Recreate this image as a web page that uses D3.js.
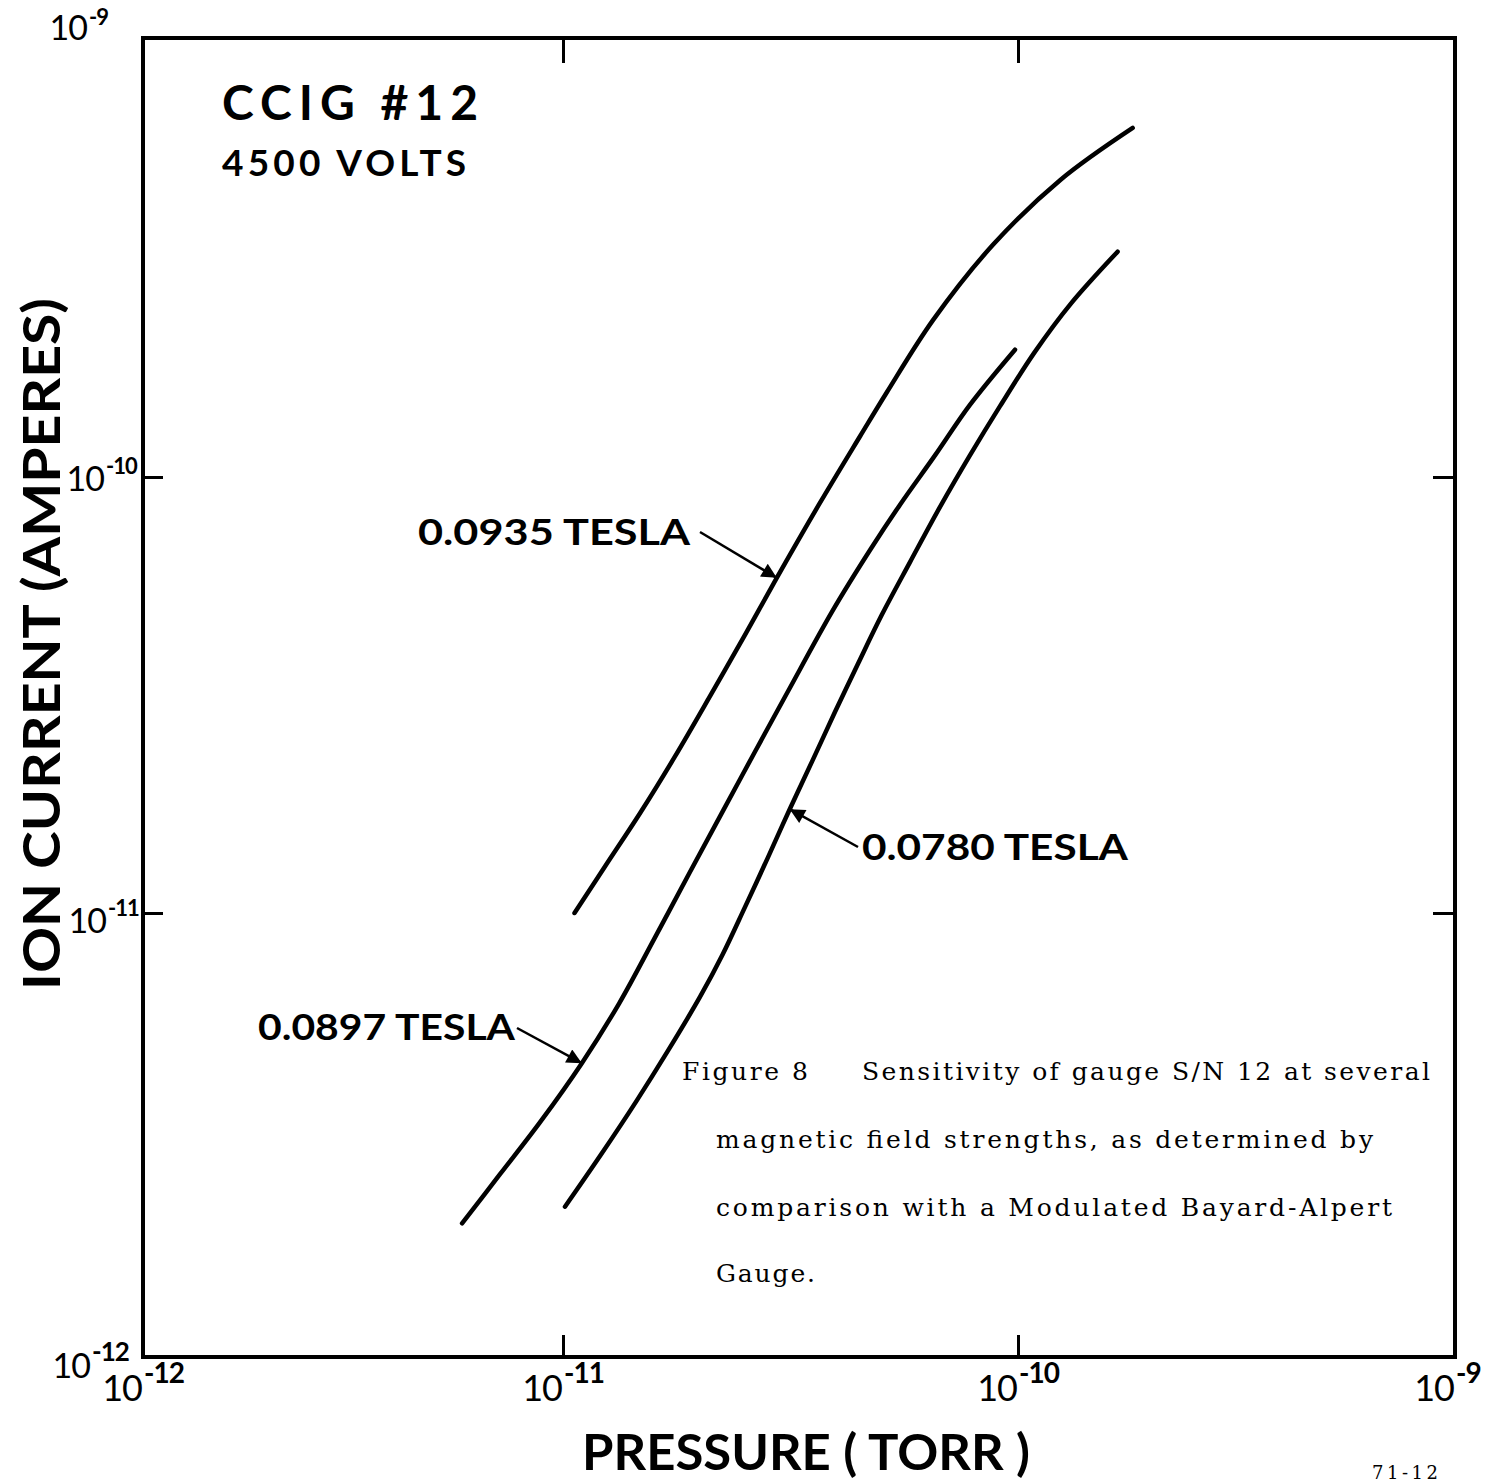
<!DOCTYPE html>
<html>
<head>
<meta charset="utf-8">
<script src="https://cdn.jsdelivr.net/npm/d3@7"></script>
<style>
  html, body { margin: 0; padding: 0; background: #fff; }
  svg { display: block; }
</style>
</head>
<body>
<svg id="chart" width="1507" height="1482"></svg>
<script>
// Decade tick values for both log axes
const xTicks = [1e-12, 1e-11, 1e-10, 1e-9];
const yTicks = [1e-12, 1e-11, 1e-10, 1e-9];
const xTickExp = ["-12", "-11", "-10", "-9"];
const yTickExp = ["-12", "-11", "-10", "-9"];

// Pressure (torr) / ion current (A) for each magnetic field
const pressure0935 = [1.06e-11, 1.25e-11, 1.48e-11, 1.76e-11, 2.10e-11, 2.51e-11, 2.95e-11, 3.67e-11, 4.50e-11, 5.15e-11, 6.51e-11, 8.81e-11, 1.25e-10, 1.83e-10];
const current0935  = [1.00e-11, 1.30e-11, 1.70e-11, 2.28e-11, 3.13e-11, 4.34e-11, 5.87e-11, 8.72e-11, 1.24e-10, 1.56e-10, 2.28e-10, 3.38e-10, 4.75e-10, 6.24e-10];

const pressure0897 = [5.75e-12, 7.08e-12, 8.82e-12, 1.10e-11, 1.33e-11, 1.59e-11, 1.90e-11, 2.25e-11, 2.64e-11, 3.11e-11, 3.92e-11, 4.73e-11, 5.50e-11, 6.57e-11, 7.84e-11, 9.85e-11];
const current0897  = [2.00e-12, 2.58e-12, 3.38e-12, 4.59e-12, 6.27e-12, 8.78e-12, 1.24e-11, 1.72e-11, 2.34e-11, 3.20e-11, 4.95e-11, 6.80e-11, 8.63e-11, 1.12e-10, 1.46e-10, 1.95e-10];

const pressure0780 = [1.01e-11, 1.21e-11, 1.45e-11, 1.70e-11, 2.00e-11, 2.24e-11, 2.51e-11, 2.82e-11, 3.15e-11, 3.53e-11, 3.96e-11, 4.45e-11, 5.02e-11, 5.79e-11, 6.74e-11, 7.84e-11, 9.13e-11, 1.09e-10, 1.32e-10, 1.69e-10];
const current0780  = [2.18e-12, 2.85e-12, 3.77e-12, 4.89e-12, 6.47e-12, 8.04e-12, 1.03e-11, 1.34e-11, 1.73e-11, 2.23e-11, 2.89e-11, 3.73e-11, 4.83e-11, 6.38e-11, 8.54e-11, 1.12e-10, 1.45e-10, 1.92e-10, 2.48e-10, 3.26e-10];

const fieldLabels = ["0.0935 TESLA", "0.0897 TESLA", "0.0780 TESLA"];

const captionLines = [
  "Sensitivity of gauge S/N 12 at several",
  "magnetic field strengths, as determined by",
  "comparison with a Modulated Bayard-Alpert",
  "Gauge."
];

const svg = d3.select("#chart");
const sans = "Lato, 'DejaVu Sans', sans-serif";
const serif = "'DejaVu Serif', 'Liberation Serif', serif";

// Hand-ruled decades are not quite equal, so the log scales are piecewise
const x = d3.scaleLog().domain(xTicks).range([143, 563, 1018, 1455]);
const y = d3.scaleLog().domain(yTicks).range([1357, 913, 477, 38]);

const [x0, x1] = [x(1e-12), x(1e-9)];
const [y0, y1] = [y(1e-12), y(1e-9)];

// Plot frame
svg.append("rect")
  .attr("x", x0).attr("y", y1)
  .attr("width", x1 - x0).attr("height", y0 - y1)
  .attr("fill", "none").attr("stroke", "#000").attr("stroke-width", 4);

// Inward ticks on all four sides
const inner = [1e-11, 1e-10];
function tickAxis(axis, transform, size) {
  const g = svg.append("g").attr("transform", transform)
    .call(axis.tickValues(inner).tickSize(size).tickFormat(""));
  g.select(".domain").remove();
  g.selectAll(".tick line").attr("stroke", "#000").attr("stroke-width", 3);
}
tickAxis(d3.axisBottom(x), `translate(0,${y0})`, -22);
tickAxis(d3.axisTop(x), `translate(0,${y1})`, -25);
tickAxis(d3.axisLeft(y), `translate(${x0},0)`, -20);
tickAxis(d3.axisRight(y), `translate(${x1},0)`, -22);

// Tick labels: a "10" followed by a raised exponent, placed as two texts
const tickLabels = svg.append("g").attr("font-family", sans).attr("fill", "#000");
function powerLabel(baseEnd, baseY, exp, baseSize, expSize, rise) {
  tickLabels.append("text")
    .attr("x", baseEnd).attr("y", baseY)
    .attr("text-anchor", "end")
    .attr("font-size", baseSize).attr("letter-spacing", -1)
    .text("10");
  tickLabels.append("text")
    .attr("x", baseEnd + 2).attr("y", baseY - rise)
    .attr("font-size", expSize).attr("font-weight", 700)
    .attr("letter-spacing", -1)
    .text(exp);
}

// x labels: the "10" ends at its tick
xTicks.forEach((v, i) => {
  powerLabel(x(v) - 1, y0 + 44, xTickExp[i], 36, 28, 18);
});

// y labels sit left of the axis; the corner ones ride above/below the frame
const yBaseEnd = [90, 106, 104, 87];
const yBaseDy = [21, 20, 14, 2];
const yRise = [17, 17, 17, 15];
yTicks.forEach((v, i) => {
  powerLabel(yBaseEnd[i], y(v) + yBaseDy[i], yTickExp[i], 34, i === 0 ? 26 : 22, yRise[i]);
});

// Axis titles
svg.append("text")
  .attr("x", 806).attr("y", 1470)
  .attr("text-anchor", "middle")
  .attr("font-family", sans).attr("font-weight", 700).attr("font-size", 50)
  .attr("textLength", 448).attr("lengthAdjust", "spacingAndGlyphs")
  .text("PRESSURE ( TORR )");

svg.append("text")
  .attr("transform", `translate(60,644) rotate(-90)`)
  .attr("text-anchor", "middle")
  .attr("font-family", sans).attr("font-weight", 700).attr("font-size", 52)
  .attr("textLength", 692).attr("lengthAdjust", "spacingAndGlyphs")
  .text("ION CURRENT (AMPERES)");

// Gauge heading
svg.append("text")
  .attr("x", 222).attr("y", 120)
  .attr("font-family", sans).attr("font-weight", 700).attr("font-size", 48)
  .attr("textLength", 256).attr("lengthAdjust", "spacing")
  .text("CCIG  #12");
svg.append("text")
  .attr("x", 222).attr("y", 176)
  .attr("font-family", sans).attr("font-weight", 700).attr("font-size", 37)
  .attr("textLength", 244).attr("lengthAdjust", "spacing")
  .text("4500 VOLTS");

// Sensitivity curves
const series = [
  { p: pressure0935, c: current0935 },
  { p: pressure0897, c: current0897 },
  { p: pressure0780, c: current0780 }
].map(s => s.p.map((pv, i) => [pv, s.c[i]]));

const line = d3.line()
  .x(d => x(d[0])).y(d => y(d[1]))
  .curve(d3.curveCatmullRom.alpha(0.5));

svg.append("g").selectAll("path")
  .data(series).join("path")
  .attr("d", line)
  .attr("fill", "none").attr("stroke", "#000")
  .attr("stroke-width", 4.5).attr("stroke-linecap", "round");

// Arrowhead marker
svg.append("defs").append("marker")
  .attr("id", "head").attr("viewBox", "0 0 10 10")
  .attr("refX", 10).attr("refY", 5)
  .attr("markerWidth", 9).attr("markerHeight", 6)
  .attr("markerUnits", "strokeWidth")
  .attr("orient", "auto")
  .append("path").attr("d", "M0,0 L10,5 L0,10 z").attr("fill", "#000");

// Field labels with arrows pointing onto their curves
const labelSpecs = [
  { s: 0, idx: 6, tx: 418, ty: 545, w: 272, from: [700, 532] },
  { s: 1, idx: 3, tx: 258, ty: 1040, w: 257, from: [517, 1028] },
  { s: 2, idx: 8, tx: 862, ty: 860, w: 266, from: [858, 847] }
];
labelSpecs.forEach((L, k) => {
  svg.append("text")
    .attr("x", L.tx).attr("y", L.ty)
    .attr("font-family", sans).attr("font-weight", 700).attr("font-size", 37)
    .attr("textLength", L.w).attr("lengthAdjust", "spacingAndGlyphs")
    .text(fieldLabels[k]);
  const d = series[L.s][L.idx];
  svg.append("line")
    .attr("x1", L.from[0]).attr("y1", L.from[1])
    .attr("x2", x(d[0])).attr("y2", y(d[1]))
    .attr("stroke", "#000").attr("stroke-width", 2.5)
    .attr("marker-end", "url(#head)");
});

// Figure caption
const cap = svg.append("g")
  .attr("font-family", serif).attr("font-size", 25).attr("fill", "#000");
cap.append("text").attr("x", 682).attr("y", 1080)
  .attr("textLength", 126).attr("lengthAdjust", "spacing").text("Figure 8");
const capX = [862, 716, 716, 716];
const capY = [1080, 1148, 1216, 1282];
const capW = [568, 657, 676, 99];
captionLines.forEach((t, i) => {
  cap.append("text").attr("x", capX[i]).attr("y", capY[i])
    .attr("textLength", capW[i]).attr("lengthAdjust", "spacing").text(t);
});

// Plate number at the foot of the sheet
svg.append("text")
  .attr("x", 1372).attr("y", 1479)
  .attr("font-family", serif).attr("font-size", 18)
  .attr("textLength", 66).attr("lengthAdjust", "spacing")
  .text("71-12");
</script>
</body>
</html>
